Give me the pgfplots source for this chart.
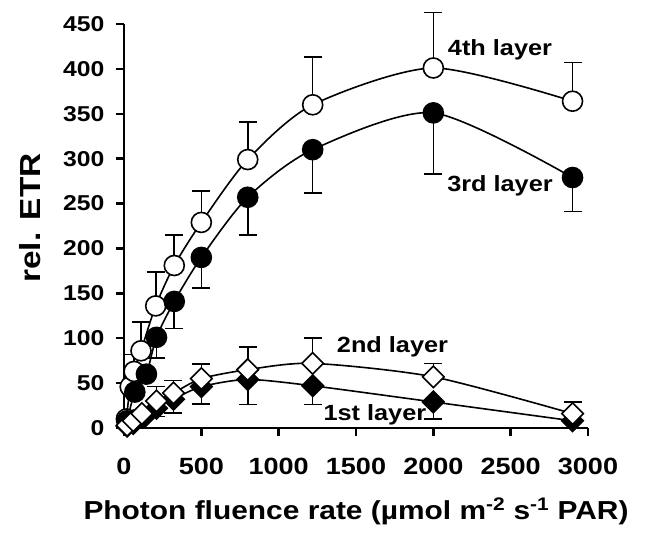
\documentclass[border=0pt]{standalone}
\usepackage{pgfplots}
\pgfplotsset{compat=1.18}
\usepackage{fontspec}
\setmainfont{Liberation Sans}[FakeStretch=1.15]
\pgfplotsset{
  ser/.style={black, line width=1.6pt, smooth, tension=0.45},
}
\begin{document}
\begin{tikzpicture}
\begin{axis}[
  scale only axis,
  width=464pt, height=404pt,
  xmin=0, xmax=3000, ymin=0, ymax=450,
  axis lines=left,
  axis line style={-, line width=2.8pt},
  xtick={0,500,...,3000},
  ytick={0,50,...,450},
  tick align=outside,
  major tick length=8pt,
  tick style={line width=2.4pt, black},
  /pgf/number format/assume math mode=true,
  /pgf/number format/1000 sep={},
  xticklabel style={font=\bfseries\fontsize{23.5}{23.5}\selectfont, yshift=-19pt},
  yticklabel style={font=\bfseries\fontsize{21.5}{21.5}\selectfont, xshift=-8pt},
  xlabel={Photon fluence rate (µmol m\textsuperscript{-2} s\textsuperscript{-1} PAR)},
  ylabel={rel. ETR},
  xlabel style={font=\bfseries\fontsize{26}{26}\selectfont, yshift=-16pt},
  ylabel style={font=\bfseries\fontsize{29}{29}\selectfont, yshift=16pt, xshift=8pt},
  clip=false,
  error bars/error bar style={line width=1.6pt, black, solid},
  error bars/error mark options={rotate=90, mark size=9pt, line width=1.6pt, black},
]
% 4th layer (open circles, upward error bars)
\addplot[ser, mark=*, mark size=10pt, mark options={fill=white, draw=black, line width=1.6pt},
  error bars/.cd, y dir=plus, y explicit]
coordinates {
(15,10) +- (0,0)
(40,46) +- (0,0)
(65,63) +- (0,19)
(110,86) +- (0,32)
(205,136) +- (0,38)
(325,181) +- (0,34)
(500,229) +- (0,35)
(800,299) +- (0,42)
(1220,360) +- (0,53)
(2000,401) +- (0,62)
(2900,364) +- (0,43)
};
% 3rd layer (filled circles, downward error bars)
\addplot[ser, mark=*, mark size=10pt, mark options={fill=black, draw=black, line width=1.6pt},
  error bars/.cd, y dir=minus, y explicit]
coordinates {
(20,8) +- (0,0)
(70,40) +- (0,0)
(145,60) +- (0,0)
(210,101) +- (0,23)
(325,141) +- (0,30)
(500,190) +- (0,34)
(800,257) +- (0,42)
(1220,310) +- (0,48)
(2000,351) +- (0,68)
(2900,279) +- (0,38)
};
% 1st layer (filled diamonds, downward error bars)
\addplot[ser, mark=square*, mark size=7.6pt, mark options={rotate=45, fill=black, draw=black, line width=1.6pt},
  error bars/.cd, y dir=minus, y explicit]
coordinates {
(20,2) +- (0,0)
(60,5) +- (0,0)
(130,12) +- (0,0)
(210,22) +- (0,9)
(320,32) +- (0,15)
(500,46) +- (0,19)
(800,54) +- (0,28)
(1220,47) +- (0,21)
(2000,29) +- (0,19)
(2900,8) +- (0,0)
};
% 2nd layer (open diamonds, upward error bars)
\addplot[ser, mark=square*, mark size=7.6pt, mark options={rotate=45, fill=white, draw=black, line width=1.6pt},
  error bars/.cd, y dir=plus, y explicit]
coordinates {
(20,3) +- (0,0)
(60,8) +- (0,0)
(115,16) +- (0,0)
(210,30) +- (0,16)
(320,39) +- (0,14)
(500,55) +- (0,16)
(800,65) +- (0,25)
(1220,72) +- (0,28)
(2000,57) +- (0,15)
(2900,16) +- (0,13)
};
\node[font=\bfseries\fontsize{22}{22}\selectfont] at (axis cs:2431,421) {4th layer};
\node[font=\bfseries\fontsize{22}{22}\selectfont] at (axis cs:2431,270) {3rd layer};
\node[font=\bfseries\fontsize{22}{22}\selectfont] at (axis cs:1736,90) {2nd layer};
\node[font=\bfseries\fontsize{22}{22}\selectfont] at (axis cs:1622,15) {1st layer};
\end{axis}
\path (current axis.south west) ++(-124pt,-106pt) rectangle ++(645pt,534pt);
\end{tikzpicture}
\end{document}
